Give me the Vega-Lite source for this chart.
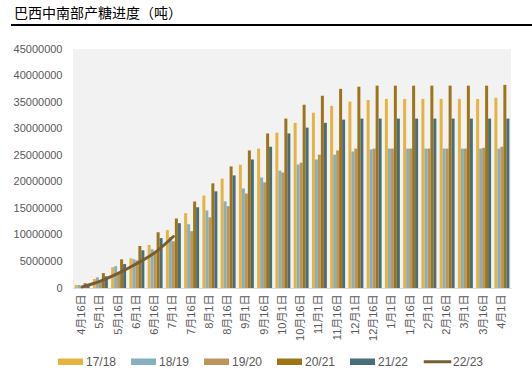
{
  "$schema": "https://vega.github.io/schema/vega-lite/v6.json",
  "padding": {"left": 10, "top": 7, "right": 0, "bottom": 0},
  "autosize": {"type": "pad"},
  "spacing": 17,
  "bounds": "full",
  "resolve": {"legend": {"color": "independent"}, "scale": {"color": "independent", "x": "independent"}},
  "config": {
    "view": {"stroke": null},
    "font": "Liberation Sans, Noto Sans CJK SC"
  },
  "datasets": {
    "bars": [
      {"date": "4月16日", "season": "17/18", "value": 560000},
      {"date": "5月1日", "season": "17/18", "value": 1700000},
      {"date": "5月16日", "season": "17/18", "value": 3900000},
      {"date": "6月1日", "season": "17/18", "value": 5600000},
      {"date": "6月16日", "season": "17/18", "value": 8100000},
      {"date": "7月1日", "season": "17/18", "value": 10900000},
      {"date": "7月16日", "season": "17/18", "value": 14100000},
      {"date": "8月1日", "season": "17/18", "value": 17400000},
      {"date": "8月16日", "season": "17/18", "value": 20600000},
      {"date": "9月1日", "season": "17/18", "value": 23200000},
      {"date": "9月16日", "season": "17/18", "value": 26250000},
      {"date": "10月1日", "season": "17/18", "value": 29250000},
      {"date": "10月16日", "season": "17/18", "value": 31100000},
      {"date": "11月1日", "season": "17/18", "value": 33000000},
      {"date": "11月16日", "season": "17/18", "value": 34300000},
      {"date": "12月1日", "season": "17/18", "value": 35100000},
      {"date": "12月16日", "season": "17/18", "value": 35400000},
      {"date": "1月1日", "season": "17/18", "value": 35600000},
      {"date": "1月16日", "season": "17/18", "value": 35600000},
      {"date": "2月1日", "season": "17/18", "value": 35600000},
      {"date": "2月16日", "season": "17/18", "value": 35600000},
      {"date": "3月1日", "season": "17/18", "value": 35600000},
      {"date": "3月16日", "season": "17/18", "value": 35600000},
      {"date": "4月1日", "season": "17/18", "value": 35800000},

      {"date": "4月16日", "season": "18/19", "value": 560000},
      {"date": "5月1日", "season": "18/19", "value": 2000000},
      {"date": "5月16日", "season": "18/19", "value": 4100000},
      {"date": "6月1日", "season": "18/19", "value": 5400000},
      {"date": "6月16日", "season": "18/19", "value": 7300000},
      {"date": "7月1日", "season": "18/19", "value": 9600000},
      {"date": "7月16日", "season": "18/19", "value": 12000000},
      {"date": "8月1日", "season": "18/19", "value": 14600000},
      {"date": "8月16日", "season": "18/19", "value": 16300000},
      {"date": "9月1日", "season": "18/19", "value": 18750000},
      {"date": "9月16日", "season": "18/19", "value": 20800000},
      {"date": "10月1日", "season": "18/19", "value": 22100000},
      {"date": "10月16日", "season": "18/19", "value": 23250000},
      {"date": "11月1日", "season": "18/19", "value": 24200000},
      {"date": "11月16日", "season": "18/19", "value": 25100000},
      {"date": "12月1日", "season": "18/19", "value": 25700000},
      {"date": "12月16日", "season": "18/19", "value": 26100000},
      {"date": "1月1日", "season": "18/19", "value": 26250000},
      {"date": "1月16日", "season": "18/19", "value": 26250000},
      {"date": "2月1日", "season": "18/19", "value": 26250000},
      {"date": "2月16日", "season": "18/19", "value": 26250000},
      {"date": "3月1日", "season": "18/19", "value": 26250000},
      {"date": "3月16日", "season": "18/19", "value": 26250000},
      {"date": "4月1日", "season": "18/19", "value": 26250000},

      {"date": "4月16日", "season": "19/20", "value": 200000},
      {"date": "5月1日", "season": "19/20", "value": 1300000},
      {"date": "5月16日", "season": "19/20", "value": 3000000},
      {"date": "6月1日", "season": "19/20", "value": 5200000},
      {"date": "6月16日", "season": "19/20", "value": 6600000},
      {"date": "7月1日", "season": "19/20", "value": 8800000},
      {"date": "7月16日", "season": "19/20", "value": 10700000},
      {"date": "8月1日", "season": "19/20", "value": 13300000},
      {"date": "8月16日", "season": "19/20", "value": 15400000},
      {"date": "9月1日", "season": "19/20", "value": 17800000},
      {"date": "9月16日", "season": "19/20", "value": 19900000},
      {"date": "10月1日", "season": "19/20", "value": 21750000},
      {"date": "10月16日", "season": "19/20", "value": 23600000},
      {"date": "11月1日", "season": "19/20", "value": 25100000},
      {"date": "11月16日", "season": "19/20", "value": 25900000},
      {"date": "12月1日", "season": "19/20", "value": 26250000},
      {"date": "12月16日", "season": "19/20", "value": 26250000},
      {"date": "1月1日", "season": "19/20", "value": 26250000},
      {"date": "1月16日", "season": "19/20", "value": 26250000},
      {"date": "2月1日", "season": "19/20", "value": 26250000},
      {"date": "2月16日", "season": "19/20", "value": 26250000},
      {"date": "3月1日", "season": "19/20", "value": 26250000},
      {"date": "3月16日", "season": "19/20", "value": 26400000},
      {"date": "4月1日", "season": "19/20", "value": 26600000},

      {"date": "4月16日", "season": "20/21", "value": 900000},
      {"date": "5月1日", "season": "20/21", "value": 2800000},
      {"date": "5月16日", "season": "20/21", "value": 5400000},
      {"date": "6月1日", "season": "20/21", "value": 7900000},
      {"date": "6月16日", "season": "20/21", "value": 10500000},
      {"date": "7月1日", "season": "20/21", "value": 13100000},
      {"date": "7月16日", "season": "20/21", "value": 16300000},
      {"date": "8月1日", "season": "20/21", "value": 19700000},
      {"date": "8月16日", "season": "20/21", "value": 22900000},
      {"date": "9月1日", "season": "20/21", "value": 25900000},
      {"date": "9月16日", "season": "20/21", "value": 29100000},
      {"date": "10月1日", "season": "20/21", "value": 31900000},
      {"date": "10月16日", "season": "20/21", "value": 34500000},
      {"date": "11月1日", "season": "20/21", "value": 36200000},
      {"date": "11月16日", "season": "20/21", "value": 37500000},
      {"date": "12月1日", "season": "20/21", "value": 37900000},
      {"date": "12月16日", "season": "20/21", "value": 38100000},
      {"date": "1月1日", "season": "20/21", "value": 38100000},
      {"date": "1月16日", "season": "20/21", "value": 38100000},
      {"date": "2月1日", "season": "20/21", "value": 38100000},
      {"date": "2月16日", "season": "20/21", "value": 38100000},
      {"date": "3月1日", "season": "20/21", "value": 38100000},
      {"date": "3月16日", "season": "20/21", "value": 38100000},
      {"date": "4月1日", "season": "20/21", "value": 38250000},

      {"date": "4月16日", "season": "21/22", "value": 400000},
      {"date": "5月1日", "season": "21/22", "value": 2200000},
      {"date": "5月16日", "season": "21/22", "value": 4500000},
      {"date": "6月1日", "season": "21/22", "value": 7100000},
      {"date": "6月16日", "season": "21/22", "value": 9400000},
      {"date": "7月1日", "season": "21/22", "value": 12200000},
      {"date": "7月16日", "season": "21/22", "value": 15200000},
      {"date": "8月1日", "season": "21/22", "value": 18200000},
      {"date": "8月16日", "season": "21/22", "value": 21200000},
      {"date": "9月1日", "season": "21/22", "value": 24200000},
      {"date": "9月16日", "season": "21/22", "value": 26600000},
      {"date": "10月1日", "season": "21/22", "value": 29100000},
      {"date": "10月16日", "season": "21/22", "value": 30200000},
      {"date": "11月1日", "season": "21/22", "value": 31100000},
      {"date": "11月16日", "season": "21/22", "value": 31700000},
      {"date": "12月1日", "season": "21/22", "value": 31900000},
      {"date": "12月16日", "season": "21/22", "value": 31900000},
      {"date": "1月1日", "season": "21/22", "value": 31900000},
      {"date": "1月16日", "season": "21/22", "value": 31900000},
      {"date": "2月1日", "season": "21/22", "value": 31900000},
      {"date": "2月16日", "season": "21/22", "value": 31900000},
      {"date": "3月1日", "season": "21/22", "value": 31900000},
      {"date": "3月16日", "season": "21/22", "value": 31900000},
      {"date": "4月1日", "season": "21/22", "value": 31900000}
    ],
    "line": [
      {"date": "4月16日", "season": "22/23", "value": 200000},
      {"date": "5月1日", "season": "22/23", "value": 1300000},
      {"date": "5月16日", "season": "22/23", "value": 2800000},
      {"date": "6月1日", "season": "22/23", "value": 4600000},
      {"date": "6月16日", "season": "22/23", "value": 6700000},
      {"date": "7月1日", "season": "22/23", "value": 9700000}
    ],
    "header": [{"from": -62, "to": 460, "v": 0}]
  },
  "vconcat": [
    {
      "data": {"name": "header"},
      "width": 460,
      "height": 1,
      "title": {
        "text": "巴西中南部产糖进度（吨）",
        "anchor": "start",
        "frame": "group",
        "dx": -59,
        "offset": 3,
        "fontSize": 14,
        "fontWeight": "normal",
        "font": "Noto Sans CJK SC",
        "color": "#000000"
      },
      "mark": {"type": "rule", "color": "#000000", "strokeWidth": 2, "clip": false},
      "encoding": {
        "x": {"field": "from", "type": "quantitative", "axis": null, "scale": {"domain": [0, 460], "zero": false, "nice": false}},
        "x2": {"field": "to"},
        "y": {"field": "v", "type": "quantitative", "axis": null, "scale": {"domain": [0, 1]}}
      }
    },
    {
      "width": 438,
      "height": 239,
      "view": {"fill": "#F2F2F2", "stroke": null},
      "encoding": {
        "x": {
          "field": "date",
          "type": "nominal",
          "sort": ["4月16日","5月1日","5月16日","6月1日","6月16日","7月1日","7月16日","8月1日","8月16日","9月1日","9月16日","10月1日","10月16日","11月1日","11月16日","12月1日","12月16日","1月1日","1月16日","2月1日","2月16日","3月1日","3月16日","4月1日"],
          "scale": {"paddingInner": 0.18, "paddingOuter": 0.09},
          "axis": {
            "title": null,
            "labelAngle": -90,
            "labelFontSize": 11,
            "labelColor": "#595959",
            "labelPadding": 6,
            "ticks": false,
            "tickSize": 0,
            "domainColor": "#D9D9D9",
            "domainWidth": 1
          }
        },
        "y": {
          "field": "value",
          "type": "quantitative",
          "scale": {"domain": [0, 45000000]},
          "axis": {
            "title": null,
            "values": [0, 5000000, 10000000, 15000000, 20000000, 25000000, 30000000, 35000000, 40000000, 45000000],
            "format": "d",
            "labelFontSize": 11,
            "labelColor": "#595959",
            "labelPadding": 11,
            "ticks": false,
            "tickSize": 0,
            "domain": false,
            "grid": false,
            "minExtent": 62,
            "maxExtent": 62
          }
        },
        "color": {
          "field": "season",
          "type": "nominal",
          "scale": {
            "domain": ["17/18", "18/19", "19/20", "20/21", "21/22", "22/23"],
            "range": ["#E6B43E", "#86AFC0", "#BC955C", "#9D7416", "#476E7A", "#7A5C32"]
          }
        }
      },
      "layer": [
        {
          "data": {"name": "bars"},
          "mark": {"type": "bar"},
          "encoding": {
            "xOffset": {
              "field": "season",
              "type": "nominal",
              "sort": ["17/18", "18/19", "19/20", "20/21", "21/22"],
              "scale": {"paddingInner": 0, "paddingOuter": 0}
            },
            "color": {
              "field": "season",
              "type": "nominal",
              "legend": {
                "orient": "none",
                "direction": "horizontal",
                "legendX": -15,
                "legendY": 300,
                "title": null,
                "symbolSize": 625,
                "symbolType": "M-1,-0.26H1V0.26H-1Z",
                "symbolStrokeWidth": 0,
                "labelFontSize": 12,
                "labelColor": "#595959",
                "labelOffset": 3,
                "columnPadding": 14,
                "padding": 0,
                "encode": {
                  "symbols": {
                    "update": {
                      "shape": {"signal": "datum.value === '22/23' ? 'M-1.1,-0.12H1.1V0.12H-1.1Z' : 'M-1,-0.26H1V0.26H-1Z'"}
                    }
                  }
                }
              }
            }
          }
        },
        {
          "data": {"name": "line"},
          "mark": {"type": "line", "interpolate": "monotone", "strokeWidth": 3, "strokeCap": "round"}
        }
      ]
    }
  ]
}
